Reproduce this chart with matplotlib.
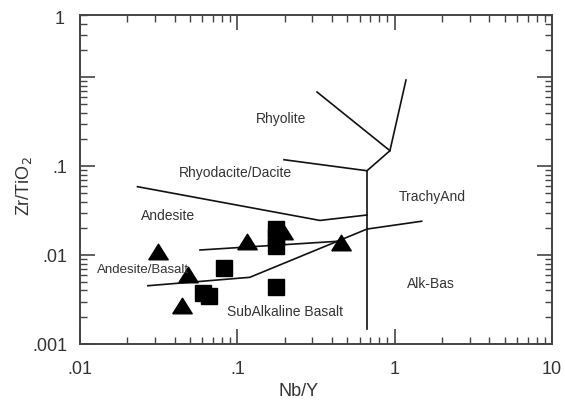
import matplotlib
matplotlib.use("Agg")
import matplotlib.pyplot as plt

plt.rcParams["font.family"] = ["Liberation Sans", "DejaVu Sans"]

# field boundaries (Nb/Y, Zr/TiO2)
rhyolite_left_x = [0.321, 0.933]
rhyolite_left_y = [0.681, 0.149]
rhyolite_right_x = [1.18, 0.933, 0.667]
rhyolite_right_y = [0.929, 0.149, 0.0887]
dacite_x = [0.198, 0.667]
dacite_y = [0.118, 0.0887]
vertical_x = [0.667, 0.667]
vertical_y = [0.0887, 0.00147]
andesite_x = [0.0232, 0.335, 0.667]
andesite_y = [0.0587, 0.0245, 0.0282]
lower_x = [0.027, 0.120, 0.667, 1.485]
lower_y = [0.00452, 0.00562, 0.0196, 0.024]
middle_x = [0.0579, 0.456]
middle_y = [0.0114, 0.01436]

# samples
tri_x = [0.0315, 0.0484, 0.0443, 0.1147, 0.456, 0.195]
tri_y = [0.0108, 0.00593, 0.00266, 0.0140, 0.0136, 0.0184]
sq_x = [0.0826, 0.0608, 0.0656, 0.176, 0.176, 0.176, 0.176]
sq_y = [0.00714, 0.00372, 0.00349, 0.0194, 0.0158, 0.0128, 0.00434]

# field names
field_names = ["Rhyolite", "Rhyodacite/Dacite", "TrachyAnd", "Andesite",
               "Andesite/Basalt", "SubAlkaline Basalt", "Alk-Bas"]
field_x = [0.191, 0.0966, 1.74, 0.0364, 0.0252, 0.201, 1.71]
field_y = [0.336, 0.0828, 0.0447, 0.0278, 0.00674, 0.0023, 0.00474]

fig = plt.figure(figsize=(5.65, 4.03), dpi=100)
ax = fig.add_axes([80 / 565, 59 / 403, 472 / 565, 329 / 403])

lw = 1.2
for xs, ys in [(rhyolite_left_x, rhyolite_left_y), (rhyolite_right_x, rhyolite_right_y),
               (dacite_x, dacite_y), (vertical_x, vertical_y), (andesite_x, andesite_y),
               (lower_x, lower_y), (middle_x, middle_y)]:
    ax.plot(xs, ys, color="#111111", lw=lw)

# slightly flattened triangle, as in the original
tri_marker = [(-1, -0.75), (1, -0.75), (0, 0.85), (-1, -0.75)]
ax.plot(tri_x, tri_y, marker=tri_marker, color="black", ms=14, ls="none")
ax.plot(sq_x, sq_y, "s", color="black", ms=11.5, ls="none")

for name, x, y in zip(field_names, field_x, field_y):
    size = 9.5 if name == "Andesite/Basalt" else 10
    ax.text(x, y, name, ha="center", va="center", fontsize=size, color="#333333")

ax.set_xscale("log")
ax.set_yscale("log")
ax.set_xlim(0.01, 10)
ax.set_ylim(0.001, 5)

ax.set_xticks([0.01, 0.1, 1, 10])
ax.set_xticklabels([".01", ".1", "1", "10"])
ax.set_yticks([0.001, 0.01, 0.1, 1])
ax.set_yticklabels([".001", ".01", ".1", ""])
ax.text(-0.032, 0.985, "1", transform=ax.transAxes, ha="right", va="center",
        fontsize=13, color="#333333")

ax.tick_params(which="both", direction="in", top=True, right=True, colors="#444444",
               labelcolor="#333333", labelsize=13)
ax.tick_params(axis="x", which="major", length=11, width=1.2, pad=12)
ax.tick_params(axis="y", which="major", length=11, width=1.2, pad=9)
ax.tick_params(which="minor", length=5, width=1.0)
for s in ax.spines.values():
    s.set_linewidth(1.4)
    s.set_color("#444444")

ax.set_xlabel("Nb/Y", fontsize=13, color="#333333")
ax.set_ylabel("Zr/TiO$_2$", fontsize=13, color="#333333")
ax.xaxis.set_label_coords(0.462, -0.118)
ax.yaxis.set_label_coords(-0.097, 0.48)

fig.savefig("out.png", dpi=100)
